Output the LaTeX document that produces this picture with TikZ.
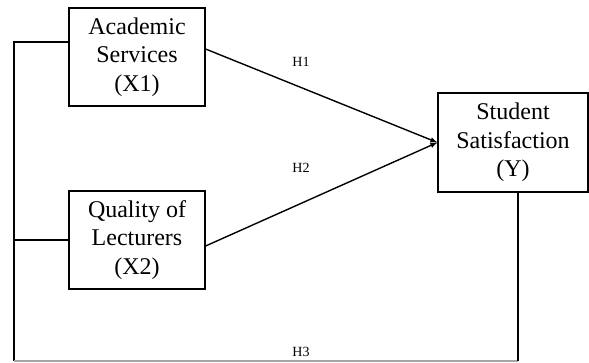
\documentclass[tikz,border=0pt]{standalone}
\usepackage{fontspec}
\setmainfont{Liberation Serif}
\usepackage{tikz, pgf}
\usetikzlibrary{arrows,shapes,positioning}

\tikzset{
  varbox/.style={draw, line width=1.2pt, align=center, inner sep=0pt,
    minimum width=136pt, minimum height=98pt,
    font=\fontsize{24}{28.5}\selectfont},
  hlabel/.style={font=\fontsize{14}{16}\selectfont}
}

\begin{document}
\begin{tikzpicture}[x=1pt, y=-1pt, line width=1.2pt]
        \useasboundingbox (0,0) rectangle (589,362);

        \node[varbox] (x1) at (137,57) {Academic\\Services\\(X1)};
        \node[varbox] (x2) at (137,240) {Quality of\\Lecturers\\(X2)};
        \node[varbox, minimum width=150pt, minimum height=99pt] (y) at (513,142.5) {Student\\Satisfaction\\(Y)};

        \coordinate (lb) at (14,361);
        \coordinate (rb) at (518,361);

        \draw[->,>=latex, line width=1.4pt] ([yshift=8pt]x1.east) -- (y.west);
        \draw[->,>=latex, line width=1.4pt] ([yshift=-6pt]x2.east) -- (y.west);

        \draw ([yshift=15pt]x1.west) -| (lb);
        \draw (x2.west) -- (lb |- x2.west);
        \draw[gray!70] (lb) -- (rb);
        \draw (rb) -- (rb |- y.south);

        \node[hlabel] (h1) at (301,62) {H1};
        \node[hlabel] (h2) at (301,168) {H2};
        \node[hlabel] (h3) at (301,352) {H3};

    \end{tikzpicture}
\end{document}
